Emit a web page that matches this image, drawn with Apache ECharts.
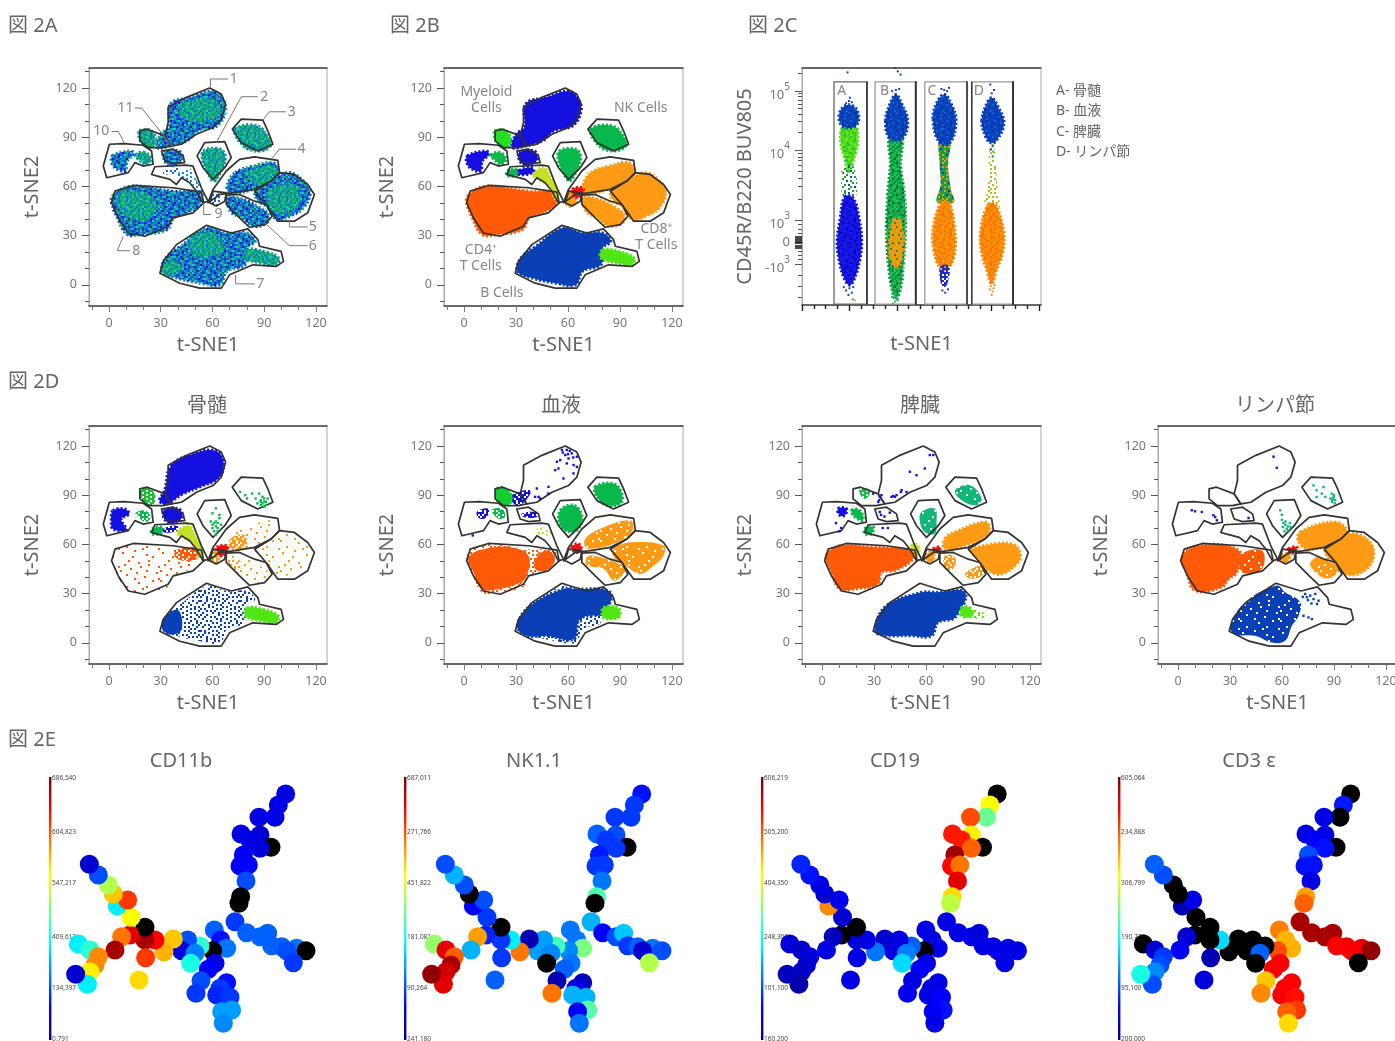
<!DOCTYPE html>
<html><head><meta charset="utf-8"><style>html,body{margin:0;padding:0;background:#fff;overflow:hidden}#c{width:1395px;height:1041px}</style>
<script src="https://cdn.jsdelivr.net/npm/echarts@6/dist/echarts.min.js"></script></head><body><div id="c"></div>
<script>
// ---------- gates (t-SNE coordinates) ----------
const gate1=[[34.3,108.2],[44.9,114.3],[58.4,120],[65.1,116.3],[67.6,110.2],[65.1,101],[60.3,95.9],[50.7,91.8],[42,85.7],[36.2,84.7],[32.4,90.8],[34.3,99]];
const gate11=[[17.9,93.9],[22.2,94.9],[32.4,90.8],[36.2,84.7],[31.4,83.7],[22.7,83.7],[17.9,87.8]];
const gateLow=[[30.4,81.6],[37.2,82.7],[43,78.6],[43.9,74.5],[37.2,73.9],[32.4,75.5]];
const gate10=[[0.2,85.7],[8.7,86.1],[19.8,85.1],[24.7,81.6],[25.6,73.5],[19.8,72.4],[15,74.5],[11.2,68.4],[-1.3,65.3],[-3.3,72.4]];
const gateT=[[26.6,72],[44.9,73],[48.7,72.4],[53.6,59],[57.4,51],[54.5,50],[50.7,57.1],[46.8,62.2],[42,65.3],[39.1,61.2],[35.3,64.3],[27.6,66.4],[24.7,67.3]];
const gate2=[[55.5,86.7],[67.1,87.3],[70.9,77.6],[67.1,71.4],[60.3,64.3],[54.5,71.4],[51.1,78.6]];
const gate3=[[76.7,101],[89.2,100.4],[92.1,93.9],[95,85.7],[86.3,81.6],[76.7,86.7],[71.5,94.9]];
const gate4=[[75.7,76.5],[84.4,78],[97.9,75.9],[98.9,68.4],[94,63.3],[84.4,58.2],[71.9,56.1],[64.2,55.1],[57.4,50],[60.3,58.2],[68,69.4]];
const gate5=[[98.8,68.4],[107.5,67.3],[115.2,61.2],[119.1,55.1],[115.2,43.9],[107.5,38.8],[97.9,38.8],[91.1,49],[84.4,57.1],[94,63.3]];
const gate6=[[68,54.7],[75.7,55.1],[84.4,51],[91.1,49],[94.6,41.8],[90.2,36.7],[81.5,35.1],[75.7,40.8],[68,49]];
const gate9=[[60.3,57.1],[68,56.1],[67.1,51],[62.2,48],[58.4,50]];
const gate8=[[3.5,57.1],[14,60.6],[37.2,59.2],[53.6,56.5],[54.9,50],[48.7,43.9],[37.2,40.8],[34.3,35.7],[20.8,29.6],[11.2,31.6],[5.4,40.8],[1.5,50]];
const gate7=[[31.4,14.3],[39.1,24.5],[56.5,36.3],[64.2,33.7],[70.9,31.6],[80.5,34.1],[86.3,27.6],[87.3,23.5],[99.8,20.4],[101.2,14.3],[96.9,11.2],[83.4,12.2],[76.7,9.2],[69.9,6.1],[65.1,-2],[52.6,-2],[41,1],[29.5,7.1]];
const allGates=[gate1,gate11,gateLow,gate10,gateT,gate2,gate3,gate4,gate5,gate6,gate9,gate8,gate7];
// ---------- populations (pooled) ----------
const popMyeloid=[[35.6,110.2],[47.2,114.3],[60.7,118],[66.5,112.2],[67.4,105.1],[62.6,96.9],[52,93.9],[45.2,87.8],[35.6,84.7],[27.9,83.7],[29.9,91.8],[34.7,95.9]];
const popLow=[[31.8,80.6],[40.5,81.6],[42.4,76.5],[37.6,73.1],[32.8,74.5]];
const popLeft=[[1.9,78.6],[12.5,81.6],[14.5,79.6],[10.6,75.5],[9.6,69.4],[4.8,70.4],[1.9,73.5]];
const popG11=[[17.9,93.9],[24.1,93.9],[27,88.8],[25,83.7],[21.2,84.7],[17.9,88.8]];
const popLeftG=[[15.4,79.2],[21.2,80.6],[24.1,76.5],[21.2,73.5],[17.3,76.5]];
const popNK=[[73.2,94.9],[85.7,96.9],[92.5,89.8],[93.5,84.7],[86.7,81.6],[78,84.7]];
const popG2=[[54.9,81.6],[64.5,82.7],[67.4,77.6],[64.5,68.4],[60.7,63.3],[56.8,69.4],[54.5,75.5]];
const popCD8a=[[73.2,68.4],[83.8,72.4],[95.4,74.5],[98.3,68.4],[93.5,63.3],[83.8,58.2],[70.3,56.1],[68.4,60.2]];
const popCD8b=[[84.8,56.1],[95.4,64.3],[105,68.4],[112.7,63.3],[116.6,56.1],[112.7,46.9],[105,41.8],[97.3,39.8],[92.5,46.9],[86.7,51]];
const popCD8c=[[69.4,53.1],[78,52],[87.7,46.9],[92.5,42.9],[91.5,37.8],[83.8,35.7],[77.1,40.8],[70.3,44.9]];
const popSmall=[[58.8,53.1],[62.6,57.1],[64.5,51],[61.7,47.9],[59.2,49]];
const popRed=[[62.6,58.2],[68.4,59.2],[68.4,55.1],[64.5,53.1]];
const popCD4=[[2.9,55.1],[12.5,60.2],[37.6,57.1],[52,56.1],[53,49],[45.2,43.9],[37.6,40.8],[33.7,33.7],[18.3,30.6],[10.6,30.6],[4.8,40.8],[1.3,51]];
const popYellow=[[39.5,67.3],[46.2,71.4],[50,65.3],[54.9,55.1],[53,52],[49,60.2],[43.2,64.3]];
const popTGreen=[[25,69.4],[30.8,70.4],[30.8,67.3],[25,66.3]];
const popTBlue=[[31.8,69.8],[39.5,71.4],[39.5,68.4],[31.8,67.3]];
const popB=[[32.8,16.3],[41.4,23.5],[56.8,34.7],[68.4,31.6],[80,31.6],[84.8,26.5],[80,22.4],[79,12.2],[68.4,8.2],[64.5,0],[53,1],[39.5,4.1],[30.8,8.2]];
const popBGreen=[[80,21.4],[89.6,20.4],[98.3,16.3],[96.4,12.2],[88.7,13.3],[79,16.3]];
const hotMyeloid=[[42,110],[60,113],[64,105],[55,100],[43,103]];
const hotCD4=[[5,55],[20,56],[27,48],[20,40],[8,44]];
const hotB1=[[48,30],[62,30],[65,22],[55,17],[47,22]];
const hotB2=[[31,12],[38,14],[41,9],[34,6]];
const hotCD8b=[[94,58],[108,60],[110,50],[100,44],[93,48]];
const hotCD8a=[[80,68],[95,72],[96,65],[85,62]];
// ---------- bone marrow ----------
const marrowMyeloid=[[36,108],[48.6,115.1],[61.1,117.3],[66.3,111.2],[64,101],[52.4,94.9],[42.8,90.8],[33.1,84.7],[29.3,86.7],[32.2,92.9]];
const marrowLeft=[[2.3,80.6],[9.1,81.6],[11.6,78.6],[7.1,75.5],[10,68.8],[2.3,69.4],[1.3,74.5]];
const clusterCD4=[[40,57],[50,58],[52,52],[44,50],[38,53]];
const clusterCD8=[[70,63],[78,66],[80,60],[74,56],[70,58]];
const clusterCD8c=[[70,50],[76,50],[76,45],[71,45]];
const clusterBm=[[32,15],[40,20],[42,8],[35,5],[31,8]];
const marrowNkDots=[[76,92],[79,90],[83,91],[85,88],[88,87],[90,86],[91,84],[88,84],[92,88],[89,89],[80,88],[87,91],[90,83],[86,85],[88,86],[90,88],[89,85],[91,86]];
const marrowG2Dots=[[62,82],[60,79],[64,78],[62,74],[60,72],[63,70],[61,68],[65,72],[59,74],[62,66],[64,76],[60,70],[63,68],[62,71],[61,73],[63,73]];
// ---------- blood ----------
const bloodCD4a=[[2.5,52],[11.2,57.1],[27.6,58.2],[37.2,53.1],[36.2,40.8],[32.4,36.7],[19.8,32.9],[10.2,32.9],[5.4,43]];
const bloodCD4b=[[42,52.2],[47.8,56.3],[52.6,51.2],[47.8,44.1],[41,45.1]];
const bloodB=[[30.8,10.4],[38.2,22.7],[57.4,32.9],[63.2,32.9],[84.4,30.8],[80.5,18.6],[67,14.5],[63.2,2.2],[47.8,4.3],[36.2,4.3]];
const bloodBG=[[80.5,21.6],[89.2,21],[89.2,15.5],[80.5,15.5]];
const bloodCD8a=[[70,63.5],[78.6,69.6],[96,74.7],[96.9,67.6],[86.3,60.4],[72.8,57.3],[70,58.4]];
const bloodCD8b=[[86.3,57.3],[96,61.4],[115.2,59.4],[115.2,53.3],[109.5,47.1],[101.7,42],[93.1,47.1],[86.3,52.2]];
const bloodCD8c=[[70.9,52.2],[74.8,53.3],[93.1,46.1],[91.1,41],[86.3,38],[80.5,45.1],[70.9,47.1]];
const bloodNK=[[75.7,95.1],[86.3,97.1],[91.1,91],[90.2,84.9],[82.5,83.9],[76.8,88.9]];
const bloodG2=[[55.5,80.8],[63.2,83.9],[68,77.8],[66.1,69.6],[61.3,67.6],[55.5,71.6]];
const bloodG11=[[18.9,94.1],[23.7,94.1],[27.6,89],[25.6,83.9],[20.8,84.9],[18.5,89]];
const bloodLeft=[[7.3,79.8],[14,81.8],[13.1,76.7],[9.2,75.7]];
const bloodLeftG=[[16,80.8],[21.8,81.8],[23.7,76.7],[19.8,75.7]];
const bloodMyLow=[[27.6,90],[38.2,93.1],[37.2,89],[32.4,83.9],[28.6,84.9]];
const bloodLow=[[33.3,78.8],[42,79.8],[42,76.7],[34.3,76.7]];
const bloodYellow=[[43,70.6],[51.6,67.6],[50,65.5],[42,66.5]];
const bloodRed=[[62.2,58.4],[66.1,60.4],[68,56.3],[64.2,55.3]];
const bloodMyeloidDots=[[56.5,117.6],[59.3,117.6],[62.2,115.5],[65.1,113.5],[58.4,114.5],[60.3,112.4],[55.5,111.4],[63.2,108.4],[65.1,107.3],[59.3,109.4],[52.6,105.3],[54.5,106.3],[63.2,103.3],[57.4,100.2],[53.6,110.4],[42,94.1],[43,89],[48.7,95.1],[48.7,91],[43.9,88],[41,89],[57,116],[61,117],[60,115],[63,113],[5,65.5]];
// ---------- spleen ----------
const spleenCD4=[[2.5,53.3],[11.2,59.4],[28.5,58.4],[51.6,56.3],[52.6,51.2],[42,44.1],[34.3,43],[32.4,35.9],[18.9,32.9],[10.2,32.9],[5.4,43]];
const spleenB=[[30.8,10.4],[37.2,22.7],[57.4,30.8],[65.1,30.8],[82.5,30.8],[76.8,15.5],[67,12.4],[63.2,4.3],[51.6,4.3],[32.4,5.3]];
const spleenBG=[[80.5,21.6],[88.2,20.6],[95,16.5],[86.3,14.5],[80.5,16.5]];
const spleenBGhot=[[80.5,21.6],[86,21],[86,16.5],[80.5,16.5]];
const spleenCD8a=[[70.9,63.5],[76.8,67.6],[94.1,73.7],[96.9,69.6],[94.1,64.5],[82.5,59.4],[70.9,57.3]];
const spleenCD8b=[[86.3,56.3],[94.1,59.4],[109.5,60.4],[114.3,55.3],[113.3,49.2],[103.7,42],[96,44.1],[90.2,51.2]];
const spleenCD8c1=[[70.9,53.3],[76.8,52.2],[75.7,45.1],[70.9,45.1]];
const spleenCD8c2=[[82.5,42],[92.1,47.1],[93.1,42],[86.3,39]];
const spleenNK=[[76.8,93],[85.4,96.1],[92.1,88],[89.2,83.9],[80.5,86.9]];
const spleenG2=[[57.4,79.8],[65.1,81.8],[66.1,73.7],[65.1,66.5],[59.3,67.6],[56.5,73.7]];
const spleenG11=[[21.8,94.1],[27.6,93.1],[25.6,88],[22.7,89]];
const spleenLeft=[[9.2,81.8],[14,81.8],[13.1,77.8],[10.2,77.8]];
const spleenLeftG=[[17,80.8],[21.8,80.8],[23.7,74.7],[18.9,76.7]];
const spleenTG=[[24.7,69.6],[29.5,70.6],[28.5,66.5],[24.7,66.5]];
const spleenYellow=[[51.6,59.4],[55.5,59.4],[55.5,53.3],[53,53]];
const spleenSmall=[[60.3,53.3],[64.2,56.3],[64.2,50.2],[61.3,49.2]];
const spleenRed=[[64.2,57.3],[68,58.4],[67,55.3]];
const spleenMyeloidDots=[[33.3,89],[34.3,90],[32.4,85.9],[40.1,89],[42,89],[43,90],[45.9,93.1],[48.7,92],[50.7,104.3],[54.5,102.2],[59.3,106.3],[62.2,114.5],[64.2,114.5],[29.5,91],[33.3,79.8],[39.1,79.4],[34,78],[36,77],[41,89.5],[33,87],[45.5,92],[8,73],[10,68],[11,70],[35,70],[38,70]];
// ---------- lymph node ----------
const nodeCD4a=[[2.1,52],[11.8,59.4],[34.9,56.3],[33.9,43],[29.1,38.9],[25.2,33.9],[9.8,31.9],[5,43]];
const nodeCD4b=[[35.8,53.3],[48.4,56.3],[48.4,45.1],[36.8,43]];
const nodeCD8a=[[70.5,67.6],[90.7,73.7],[97.5,67.6],[88.8,60.4],[75.3,57.3],[69.6,61.4]];
const nodeCD8b=[[85,57.3],[98.5,66.5],[110,62.4],[112.9,52.2],[106.2,43],[96.5,42],[88.8,49.2]];
const nodeCD8c=[[77.3,50.2],[81.1,52.2],[92.7,45.1],[88.8,40],[83,40],[76.3,47.1]];
const nodeSmall=[[59.9,53.3],[64.7,54.3],[62.8,49.2],[59.9,50.2]];
const nodeRed=[[63.8,57.3],[68.6,58.4],[67.6,55.3],[63.8,54.9]];
const nodeB=[[30.1,10.4],[38.8,24.7],[57,34.9],[61.8,30.8],[70.5,24.7],[69.6,16.5],[65.7,10.4],[61.8,1.2],[54.1,0.2],[44.5,4.3],[32.9,5.3]];
const nodeBDots=[[73.4,29.8],[76.3,28.8],[78.2,26.7],[81.1,25.7],[75.3,15.5],[77.3,14.5],[72.4,16.5],[74.4,27.8],[79.2,29.8],[80.2,23.7],[75,26],[77,24],[72,28]];
const nodeNkDots=[[88.8,91],[89.8,89],[90.7,87],[89,86],[90.5,85],[88,88],[80,93],[84,95],[83,91],[85,89],[80,88.9],[78.2,96],[89.5,88],[90,90],[89,87]];
const nodeG2Dots=[[59,80.8],[59.9,78],[60,75],[60.8,73],[62,72],[63.5,71],[64.5,73],[62.7,69.6],[61.5,68],[65,70.6],[60.5,70.6],[62,74],[63.5,68.5]];
const nodeBlueDots=[[7.9,80.8],[9.8,80.2],[13.7,79.8],[20.4,77.8],[22.4,74.7],[21.4,76.7],[55.1,113.5],[57,106.7],[40.7,76.1]];
// ---------- strip plot (2C): x position, biexponential y position ----------
const stripBoxA=[[0.675,7.27],[1.37,7.27],[1.37,-2.82],[0.675,-2.82]];
const stripBoxB=[[1.54,7.27],[2.4,7.27],[2.4,-2.82],[1.54,-2.82]];
const stripBoxC=[[2.59,7.27],[3.48,7.27],[3.48,-2.82],[2.59,-2.82]];
const stripBoxD=[[3.58,7.27],[4.45,7.27],[4.45,-2.82],[3.58,-2.82]];
const aTop=[[0.78,5.7],[0.88,6.15],[1.08,6.18],[1.2,5.7],[1.12,5.25],[0.86,5.25]];
const aGreen=[[0.86,5.25],[1.13,5.25],[1.17,4.5],[1.07,3.6],[0.98,3.2],[0.9,3.8],[0.82,4.5]];
const aMid=[[0.9,3.5],[1.08,3.5],[1.14,2.1],[0.86,2.1]];
const aBlue=[[0.9,2.05],[1.08,2.0],[1.21,1.0],[1.26,0],[1.22,-0.8],[1.1,-1.7],[1.0,-1.95],[0.88,-1.6],[0.78,-0.8],[0.74,0],[0.8,1]];
const bTop=[[1.76,5.5],[1.86,6.3],[1.98,6.7],[2.1,6.3],[2.23,5.5],[2.12,4.7],[1.85,4.7]];
const bBody=[[1.85,4.8],[2.1,4.8],[2.08,3.5],[2.17,2],[2.18,0.3],[2.14,-1],[2.08,-2.1],[1.98,-2.6],[1.89,-2.1],[1.82,-1],[1.78,0.3],[1.8,2],[1.86,3.5]];
const bOrange=[[1.93,1.0],[2.08,1.0],[2.14,-0.2],[2.06,-1.1],[1.93,-1.1],[1.83,-0.2]];
const cTop=[[2.76,5.6],[2.86,6.4],[3.0,6.7],[3.14,6.3],[3.25,5.5],[3.12,4.5],[2.9,4.5]];
const cMid=[[2.9,4.6],[3.12,4.6],[3.08,3.5],[3.14,2.4],[3.2,1.8],[2.85,1.8],[2.92,2.6],[2.9,3.6]];
const cOrange=[[2.94,1.8],[3.1,1.8],[3.22,0.6],[3.22,-0.5],[3.08,-1.2],[2.92,-1.2],[2.78,-0.4],[2.77,0.7]];
const cLow=[[2.92,-1.1],[3.1,-1.1],[3.08,-1.8],[3.0,-2.05],[2.92,-1.8]];
const dTop=[[3.79,5.5],[3.9,6.3],[4.0,6.55],[4.12,6.2],[4.26,5.4],[4.1,4.6],[3.98,4.5],[3.88,4.75]];
const dMid=[[3.98,4.6],[4.04,4.6],[4.1,3.2],[4.14,2],[4.2,1.6],[3.85,1.6],[3.92,2.4],[3.93,3.4]];
const dOrange=[[3.93,1.7],[4.08,1.7],[4.25,0.5],[4.24,-0.4],[4.1,-1.3],[4.0,-1.9],[3.9,-1.3],[3.78,-0.4],[3.77,0.6]];
const stripBlueDots=[[0.99,6.4],[0.93,6.3],[1.05,6.35],[1.01,6.55],[0.96,7.7],[1.0,-2.1],[0.93,-2.2],[1.05,-2.3],[0.98,-2.4],[0.88,-2.05],[1.08,-2.05],[1.96,7.9],[2.02,7.75],[2.08,7.6],[1.98,6.9],[2.05,6.95],[1.9,6.85],[3.0,6.9],[3.06,6.85],[2.94,6.95],[3.1,7.0],[2.96,-2.2],[3.02,-2.3],[3.08,-2.15],[4.0,6.75],[4.05,6.9],[3.97,7.15],[4.02,4.35],[3.98,4.2]];
const stripGreenDots=[[1.96,-2.7],[1.92,-2.8],[1.98,-2.9],[2.02,-2.65],[1.9,-2.5],[1.07,-2.6],[4.03,4.1],[4.02,3.9]];
const stripOrangeDots=[[3.98,-2.0],[4.04,-2.1],[4.02,-2.25],[3.96,-2.15],[4.06,-1.95],[4.0,-2.4],[0.84,3.2],[1.11,-2.65]];
// ---------- tree plots (2E): node layout and expression per node, -1 = no signal ----------
const treeNodes=[[767,162],[745,195],[735,232],[687,232],[690,285],[633,282],[660,300],[723,322],[690,325],[640,345],[630,378],[655,375],[648,423],[632,470],[627,490],[615,545],[650,578],[690,590],[713,580],[725,617],[755,620],[800,625],[770,632],[828,632],[790,668],[553,570],[572,600],[590,625],[548,632],[510,618],[473,600],[455,632],[495,640],[482,670],[555,670],[535,688],[513,722],[498,760],[590,728],[570,745],[560,765],[600,772],[605,810],[575,815],[580,850],[430,597],[402,635],[375,600],[345,600],[345,562],[347,653],[327,720],[300,585],[275,590],[255,630],[303,532],[262,498],[293,480],[250,462],[235,435],[205,405],[178,373],[145,612],[180,630],[205,650],[195,675],[180,695],[172,733],[137,703]];
const cd11bValues=[10,10,10,10,8,10,10,-1,9,12,12,12,20,-1,-1,18,22,22,22,22,22,24,20,-1,18,22,14,24,-1,42,20,10,25,40,10,12,20,18,14,18,16,18,28,28,26,68,70,88,96,-1,82,66,90,76,96,62,36,82,68,55,20,8,36,42,74,74,64,36,8];
const nk11Values=[14,18,18,18,20,22,18,-1,18,15,18,18,24,45,-1,30,12,20,32,18,22,24,8,20,55,24,24,50,26,44,28,28,26,-1,24,22,5,76,6,10,30,30,46,12,24,5,76,36,18,-1,18,22,16,72,30,18,12,20,-1,20,30,20,52,90,78,96,92,90,98];
const cd19Values=[-1,62,48,80,64,85,85,-1,78,97,87,76,90,66,56,10,10,10,9,10,10,9,10,10,10,10,10,10,-1,22,10,10,25,34,10,12,10,11,10,10,10,12,14,12,10,8,24,10,9,-1,10,10,-1,6,10,8,74,11,8,10,14,16,9,7,9,8,7,4,6];
const cd3eValues=[-1,15,-1,10,10,10,12,-1,14,20,14,14,10,72,78,96,96,96,96,88,88,90,88,98,-1,75,70,70,80,-1,-1,-1,22,-1,88,88,68,74,88,88,88,86,82,78,66,-1,-1,34,-1,-1,5,9,-1,8,12,-1,5,10,-1,-1,20,22,-1,8,18,20,26,20,40];
const treeScaleCd11b=['686,540','604,823','547,217','409,612','134,397','0,791'];
const treeScaleNk=['687,011','271,766','451,822','181,081','90,264','241,180'];
const treeScaleCd19=['606,219','505,200','404,350','248,300','101,100','160,200'];
const treeScaleCd3=['605,064','234,888','306,799','190,777','95,100','200,000'];
// ---------- ticks ----------
const tsneMajor=[0,30,60,90,120];
const tsneMinorX=[-10,10,20,40,50,70,80,100,110];
const tsneMinorY=[-10,10,20,40,50,70,80,100,110,130];
const stripXMajor=[0,1,2,3,4,5];
const stripXMinor=[0.25,0.5,0.75,1.25,1.5,1.75,2.25,2.5,2.75,3.25,3.5,3.75,4.25,4.5,4.75];
const stripYMajor=[-1,0,1,4.18,6.86];
const stripYLabels={'-1':'{b|-10}{s|3}','0':'{z|0}','1':'{b|10}{s|3}','4.18':'{b|10}{s|4}','6.86':'{b|10}{s|5}'};
const stripYMinor=[7.67,6.74,6.6,6.44,6.27,6.05,5.79,5.46,4.99,4.03,3.87,3.69,3.47,3.22,2.91,2.52,1.96,0.8,0.6,0.4,-0.4,-0.6,-0.8,-1.5,-2,-2.5];
const stripYZero=[-0.25,-0.15,-0.05,0.05,0.15,0.25];
// ---------- texture tiles ----------
const maskMix=["abacabddabcabaab","caabdbaabaacbdaa","abdcaabcaadbacab","aacabadabcabaadb","dbaacabaadabcaab","acabdaacbaabadca","baadabcaaabdcaab","abcabaadbcaabaad","daabacabdaacabba","acbaabdacabaadcb","abadcaabaadbcaba","baacabdbacaabdaa","adbaacaabdabacab","caabdbacaabcaadb","abacaabdbaacdaba","bdaabcaacabaabac"];
const maskS30=["a..a...b.a..a...a..b","..b...a....a..b...a.",".a..a...a.b....a....","....b.a....a.a...b.a","a.a.....a.b....a.a..","...a.b.a.....a.....b",".b....a..a.b...a.a..","a..a.....b...a....a.","..a..b.a...a...b...a",".a......a.a..a...a..","...b.a....b....a..b.","a.....a.a...a.b...a.","..a.b.....a.....a..a",".a...a.b.a..a.a...b.","....a.....b....a.a..","b.a...a.a...a.b....a","..a.b....a.....a.a..",".a....a.b..a.b.....a","a..a.....a....a.b.a.","...b.a.a...a.a......"];
const maskS10=["....a.........a.....",".........a..........","..a...........b.....","..........a........a",".....a..............","a............a......","........b.........a.","...a................","............a.......",".......a...........b","b...............a...",".........a..........","....................","...a.........b......","...........a.......a",".......a............",".a..................",".............a......","......a.........b...","...................."];
const invert=m=>m.map(r=>r.replace(/./g,c=>c==='.'?'a':'.'));
const maskS70=invert(maskS30),maskS90=invert(maskS10);
const PAL2A={a:'#1a5fe0',b:'#12b070',c:'#1420c0',d:'#20c4c8'};
const PAL2AG={a:'#10b868',b:'#1a70e0',c:'#10a070',d:'#20c8b0'};
const PALDB={a:'#0a45c0',b:'#0a40b8',c:'#10309c',d:'#1060d8'};
const PALB={a:'#1414e0',b:'#1010f0',c:'#0808b0',d:'#2020e8'};
const PALGM={a:'#10a040',b:'#20b848',c:'#0a6a48',d:'#10c878'};
const PALOR={a:'#ff8c04',b:'#ff7200',c:'#ff9a10',d:'#e08a10'};
const PALMIX={a:'#16a040',b:'#ff9010'};
const PALYG={a:'#a8c820',b:'#ff9810'};
function tile(mask,pal,sparse){const cell=2,c=document.createElement('canvas');c.width=mask[0].length*cell;c.height=mask.length*cell;const x=c.getContext('2d');
 mask.forEach((r,j)=>{for(let i=0;i<r.length;i++){const col=pal[r[i]];if(col){x.fillStyle=col;x.fillRect(i*cell,j*cell,cell,cell);}}});return {image:c,repeat:'repeat',sparse:!!sparse};}
const solo=c=>({a:c,b:c,c:c,d:c});
const s10=c=>tile(maskS10,solo(c),1),s30=c=>tile(maskS30,solo(c),1),s70=c=>tile(maskS70,solo(c),1),s90=c=>tile(maskS90,solo(c),1);
// ---------- colours ----------
const BM='#1410e0',BB='#0a3fb5',ORR='#ff5a08',ORG='#ff9a14',GR='#08b84a',LG='#50e614',YG='#c4e028',RED='#f01010',TEAL='#10b878';
const FONT='"Noto Sans","Noto Sans CJK JP",sans-serif';
const TXT='#666',GATE='#333';
const mix=tile(maskMix,PAL2A),mixG=tile(maskMix,PAL2AG);
const layers2A=[...[popMyeloid,popLow,popLeft,popG11,popLeftG,popNK,popG2,popCD8a,popCD8b,popCD8c,popCD4,popB,popBGreen].map(p=>[p,mix]),[popTBlue,s30('#1a5fe0')],[popYellow,s30('#1a8fe0')],[popSmall,s30('#1a5fe0')],
 ...[hotMyeloid,hotCD4,hotB1,hotB2,hotCD8b,hotCD8a,popNK,popG2,popG11,popLeftG,popBGreen].map(p=>[p,mixG])];
const layers2B=[[popMyeloid,BM],[popLow,BM],[popLeft,BM],[popG11,'#20e020'],[popLeftG,GR],[popNK,GR],[popG2,GR],[popCD8a,ORG],[popCD8b,ORG],[popCD8c,ORG],[popSmall,ORG],[popRed,RED],[popCD4,ORR],[popYellow,YG],[popTGreen,GR],[popTBlue,BM],[popB,BB],[popBGreen,LG]];
const layersMarrow=[[marrowMyeloid,BM],[popLow,BM],[marrowLeft,BM],[popG11,s70('#18c030')],[popLeftG,s70(GR)],[popYellow,YG],[popTGreen,GR],[popTBlue,s70(BM)],[popCD4,s10(ORR)],[clusterCD4,s70(ORR)],[popCD8a,s10(ORG)],[popCD8b,s10(ORG)],[popCD8c,s10(ORG)],[clusterCD8,s70(ORG)],[clusterCD8c,s30(ORG)],[popSmall,s70(ORG)],[popRed,RED],[popB,s30(BB)],[clusterBm,s70(BB)],[popBGreen,LG]];
const layersBlood=[[bloodLeft,s70(BM)],[bloodLow,s70(BM)],[bloodMyLow,s70(BM)],[bloodG11,'#10d030'],[bloodLeftG,s70(GR)],[bloodNK,GR],[bloodG2,GR],[bloodYellow,s30(YG)],[popCD4,s30(ORR)],[bloodCD4a,s70(ORR)],[bloodCD4b,s70(ORR)],[bloodCD8a,s90(ORG)],[bloodCD8b,s90(ORG)],[bloodCD8c,s90(ORG)],[bloodRed,RED],[popB,s30(BB)],[bloodB,BB],[bloodBG,LG]];
const layersSpleen=[[spleenG11,s70('#10c040')],[spleenLeft,BM],[spleenLeftG,GR],[spleenNK,s90(TEAL)],[spleenG2,s90(TEAL)],[spleenTG,GR],[spleenYellow,YG],[spleenCD4,ORR],[spleenCD8a,ORG],[spleenCD8b,ORG],[spleenCD8c1,s70(ORG)],[spleenCD8c2,s70(ORG)],[spleenSmall,ORG],[spleenRed,RED],[spleenB,BB],[spleenBG,s30(LG)],[spleenBGhot,LG]];
const layersNode=[[nodeCD4a,ORR],[nodeCD4b,s90(ORR)],[nodeCD8a,ORG],[nodeCD8b,ORG],[nodeCD8c,s90(ORG)],[nodeSmall,ORG],[nodeRed,RED],[nodeB,s90(BB)]];
// ---------- builders ----------
const grid=[],xAxis=[],yAxis=[],series=[],graphicEls=[],visualMap=[];
const XR=[-11.6,126.4],YR=[-12.9,132.2];
function addAxes(l,t,w,h,o){const g=grid.length;
 grid.push({left:l,top:t,width:w,height:h,show:true,borderColor:'#aaa',borderWidth:1,backgroundColor:'#fff',outerBoundsMode:'none'});
 const xi=xAxis.length,yi=yAxis.length;
 const base={gridIndex:g,type:'value',splitLine:{show:false},minorTick:{show:false}};
 const dark={color:'#444',width:1.6};
 const tk={color:'#777',width:1};
 xAxis.push({...base,min:o.xr[0],max:o.xr[1],position:'bottom',name:o.xName,nameLocation:'middle',nameGap:29,nameTextStyle:{fontSize:20,color:TXT,fontFamily:FONT},
  axisLine:{onZero:false,lineStyle:dark},axisTick:{customValues:o.xMajor,length:6,lineStyle:o.xTk||tk},axisLabel:{show:o.xLabels,customValues:o.xMajor,margin:11,fontSize:12.5,color:'#777',fontFamily:FONT}});
 xAxis.push({...base,min:o.xr[0],max:o.xr[1],position:'bottom',axisLine:{show:false,onZero:false},axisTick:{customValues:o.xMinor,length:4,lineStyle:o.xTk||tk},axisLabel:{show:false}});
 xAxis.push({...base,min:o.xr[0],max:o.xr[1],position:'top',axisLine:{onZero:false,lineStyle:dark},axisTick:{show:false},axisLabel:{show:false}});
 yAxis.push({...base,min:o.yr[0],max:o.yr[1],position:'left',name:o.yName,nameLocation:'middle',nameGap:o.yGap,nameRotate:90,nameTextStyle:{fontSize:20,color:TXT,fontFamily:FONT},
  axisLine:{onZero:false,lineStyle:{color:'#aaa',width:1}},axisTick:{customValues:o.yMajor,length:7,lineStyle:{color:'#555',width:1}},
  axisLabel:{customValues:o.yMajor,margin:o.yMargin||12,fontSize:12.5,color:'#777',fontFamily:FONT,formatter:o.yFmt,rich:o.yRich}});
 yAxis.push({...base,min:o.yr[0],max:o.yr[1],position:'left',axisLine:{show:false,onZero:false},axisTick:{customValues:o.yMinor,length:4,lineStyle:{color:'#555',width:1}},axisLabel:{show:false}});
 return {xi,yi};}
function shapes(ax,list){series.push({type:'custom',coordinateSystem:'cartesian2d',xAxisIndex:ax.xi,yAxisIndex:ax.yi,silent:true,animation:false,clip:true,
 data:list.map((s,i)=>[s.pts[0][0],s.pts[0][1],i]),encode:{x:0,y:1},
 renderItem(p,api){const s=list[p.dataIndex];const f=s.fill;const fuzzy=f&&!f.sparse;
  return {type:'polygon',shape:{points:s.pts.map(q=>api.coord(q)),smooth:f?0.4:0},style:fuzzy?{fill:f,stroke:f,lineWidth:3,lineDash:[2,2]}:{fill:f||'none',stroke:s.stroke||null,lineWidth:s.lw||0,lineJoin:'round'}};}});}
function dots(ax,pts,color,size){series.push({type:'scatter',xAxisIndex:ax.xi,yAxisIndex:ax.yi,silent:true,animation:false,symbol:'rect',symbolSize:size||2.4,data:pts,itemStyle:{color,opacity:1}});}
function leaders(ax,pts){series.push({type:'line',xAxisIndex:ax.xi,yAxisIndex:ax.yi,silent:true,animation:false,showSymbol:false,data:pts,lineStyle:{color:'#777',width:1}});}
function labels(ax,rows,size){series.push({type:'scatter',xAxisIndex:ax.xi,yAxisIndex:ax.yi,silent:true,animation:false,symbolSize:1,itemStyle:{color:'rgba(0,0,0,0)'},data:rows,
 label:{show:true,position:'inside',formatter:p=>p.data[2],fontSize:size||14,lineHeight:16,color:TXT,fontFamily:FONT}});}
function tsnePanel(l,t,w,yGap,layers){const ax=addAxes(l,t,w,238,{xr:XR,yr:YR,xMajor:tsneMajor,xMinor:tsneMinorX,yMajor:tsneMajor,yMinor:tsneMinorY,xName:'t-SNE1',yName:'t-SNE2',yGap:yGap,xLabels:true});
 shapes(ax,layers.map(([pts,fill])=>({pts,fill})));return ax;}
function closeGates(ax){shapes(ax,allGates.map(pts=>({pts,stroke:GATE,lw:1.7})));}
function text(x,y,t,size,align,extra){graphicEls.push({type:'text',x,y:y+1,silent:true,style:{text:t,fontSize:size,fontFamily:FONT,fill:TXT,align:align||'left',verticalAlign:'middle',...extra}});}
// 2A
const a2=tsnePanel(89,68,238,47,layers2A);closeGates(a2);
[[[58.8,120],[58.8,125.5],[69,125.5]],[[62.2,86.7],[76.7,114.7],[86.3,114.7]],[[89.2,100.4],[93,105.5],[102.7,105.5]],[[94,76.5],[98.8,82.7],[108.5,82.7]],[[104.6,39.8],[104.6,35.3],[115.2,35.3]],[[90.2,37.8],[104.6,23.9],[115.2,23.9]],[[73.4,6.1],[73.4,0.6],[84.4,0.6]],[[8.3,29.6],[4.8,20.8],[12.1,20.8]],[[54.9,50],[54.9,42.9],[59.3,42.9]],[[8.7,86.7],[5.4,93.5],[1.5,93.5]],[[37.2,83.7],[18.9,107.8],[15,107.8]]].forEach(p=>leaders(a2,p));
labels(a2,[[72.4,125.5,'1'],[90,114.7,'2'],[106,105.5,'3'],[111.6,82.7,'4'],[118.2,35.3,'5'],[118.2,23.9,'6'],[87.7,0.6,'7'],[15.8,20.8,'8'],[63.5,42.9,'9'],[-4.5,93.5,'10'],[9.5,107.8,'11']]);
// 2B
const b2=tsnePanel(444,68,239,47,layers2B);closeGates(b2);
labels(b2,[[12.9,112.6,'Myeloid\nCells'],[102,108,'NK Cells'],[111,29,'CD8⁺\nT Cells'],[9.6,16.3,'CD4⁺\nT Cells'],[21.8,-5,'B Cells']]);
// 2C
const c2=addAxes(802,68,239,237,{xr:[0,5.04],yr:[-2.86,7.9],xMajor:stripXMajor,xMinor:stripXMinor,yMajor:stripYMajor,yMinor:stripYMinor,xName:'t-SNE1',yName:'CD45R/B220 BUV805',yGap:47,yMargin:12,xLabels:false,xTk:{color:'#222',width:1.4},
 yFmt:v=>stripYLabels[String(v)]||'',yRich:{b:{fontSize:13,color:'#777',fontFamily:FONT,padding:[9,0,0,0]},z:{fontSize:13,color:'#777',fontFamily:FONT},s:{fontSize:10,color:'#777',fontFamily:FONT,padding:[0,0,7,0]}}});
yAxis.push({gridIndex:grid.length-1,type:'value',min:-2.86,max:7.9,position:'left',splitLine:{show:false},axisLine:{show:false,onZero:false},axisTick:{customValues:stripYZero,length:7,lineStyle:{color:'#111',width:1.5}},axisLabel:{show:false}});
const mDB=tile(maskMix,PALDB),mB=tile(maskMix,PALB),mGM=tile(maskMix,PALGM),mOR=tile(maskMix,PALOR),mLG=tile(maskMix,{a:'#50e020',b:'#40d010',c:'#80e020',d:'#20c040'});
shapes(c2,[{pts:stripBoxA,stroke:'#666',lw:1.3},{pts:stripBoxB,stroke:'#999',lw:1.3},{pts:stripBoxC,stroke:'#999',lw:1.3},{pts:stripBoxD,stroke:'#999',lw:1.3},
 {pts:[stripBoxA[1],stripBoxA[2]],stroke:'#333',lw:1.6},{pts:[stripBoxB[1],stripBoxB[2]],stroke:'#333',lw:2},{pts:[stripBoxC[1],stripBoxC[2]],stroke:'#333',lw:1.6},{pts:[stripBoxD[1],stripBoxD[2]],stroke:'#333',lw:2},{pts:[stripBoxD[0],stripBoxD[3]],stroke:'#333',lw:1.4},
 {pts:aGreen,fill:mLG},{pts:aTop,fill:mDB},{pts:aMid,fill:tile(maskS30,{a:'#16a040',b:'#1a40c0'},1)},{pts:aBlue,fill:mB},
 {pts:bBody,fill:mGM},{pts:bOrange,fill:tile(maskMix,{a:'#e8a010',b:'#ff8c10',c:'#209040',d:'#d0a020'})},{pts:bTop,fill:mDB},
 {pts:cMid,fill:tile(maskS70,{a:'#16a040'},1)},{pts:cMid,fill:tile(maskS30,{a:'#ff9010',b:'#1a40c0'},1)},{pts:cOrange,fill:mOR},{pts:cLow,fill:tile(maskS70,{a:'#1a30c8'},1)},{pts:cTop,fill:mDB},
 {pts:dMid,fill:tile(maskS30,PALYG,1)},{pts:dOrange,fill:mOR},{pts:dTop,fill:mDB}]);
dots(c2,stripBlueDots,'#1a3cc0',2);dots(c2,stripGreenDots,'#30b060',2);dots(c2,stripOrangeDots,'#f09020',2);
labels(c2,[[0.84,6.86,'A'],[1.74,6.86,'B'],[2.74,6.86,'C'],[3.73,6.86,'D']],14);
// 2D
const d1=tsnePanel(89,426,238,47,layersMarrow);dots(d1,marrowNkDots,GR);dots(d1,marrowG2Dots,GR);closeGates(d1);
const d2=tsnePanel(444,426,239,47,layersBlood);dots(d2,bloodMyeloidDots,BM);closeGates(d2);
const d3=tsnePanel(802,426,239,47,layersSpleen);dots(d3,spleenMyeloidDots,BM);closeGates(d3);
const d4=tsnePanel(1158,426,239,47,layersNode);dots(d4,nodeBDots,BB);dots(d4,nodeBlueDots,BM);dots(d4,nodeNkDots,TEAL);dots(d4,nodeG2Dots,TEAL);closeGates(d4);
// 2E
const JET=['#00007f','#0000ff','#007fff','#00ffff','#7fff7f','#ffff00','#ff7f00','#ff0000','#7f0000'];
function tree(left,barX,values,scale){const g=grid.length;
 grid.push({left,top:740,width:300,height:301,show:false,outerBoundsMode:'none'});
 const xi=xAxis.length,yi=yAxis.length;
 xAxis.push({gridIndex:g,type:'value',min:0,max:900,show:false});
 yAxis.push({gridIndex:g,type:'value',min:0,max:903,inverse:true,show:false});
 const si=series.length;
 series.push({type:'scatter',xAxisIndex:xi,yAxisIndex:yi,silent:true,animation:false,symbolSize:19,data:treeNodes.map((n,i)=>[n[0],n[1],values[i]]),itemStyle:{opacity:1}});
 visualMap.push({type:'continuous',show:false,seriesIndex:si,dimension:2,min:-0.01,max:100,range:[0,100],inRange:{color:JET},outOfRange:{color:'#000'}});
 graphicEls.push({type:'rect',silent:true,shape:{x:barX,y:777,width:2.4,height:263},style:{fill:new echarts.graphic.LinearGradient(0,0,0,1,JET.slice().reverse().map((c,i)=>({offset:i/8,color:c})))}});
 [778,832,883,937,988,1039].forEach((y,i)=>text(barX+3,y-1,scale[i],6.5,'left',{fill:'#444'}));}
tree(30,49,cd11bValues,treeScaleCd11b);tree(386,404,nk11Values,treeScaleNk);tree(741.5,761,cd19Values,treeScaleCd19);tree(1095,1118,cd3eValues,treeScaleCd3);
// text
text(8,25,'図 2A',20);text(390,25,'図 2B',20);text(748,25,'図 2C',20);text(8,381,'図 2D',20);text(8,739,'図 2E',20);
text(207,405,'骨髄',20,'center');text(561,405,'血液',20,'center');text(920,405,'脾臓',20,'center');text(1275,405,'リンパ節',20,'center');
text(181,760,'CD11b',20,'center');text(534,760,'NK1.1',20,'center');text(895,760,'CD19',20,'center');text(1249,760,'CD3 ε',20,'center');
[['A- 骨髄',90],['B- 血液',110],['C- 脾臓',131],['D- リンパ節',151]].forEach(r=>text(1056,r[1],r[0],14));
const chart=echarts.init(document.getElementById('c'),null,{renderer:'canvas'});
chart.setOption({animation:false,backgroundColor:'#fff',textStyle:{fontFamily:FONT},grid,xAxis,yAxis,series,visualMap,graphic:{elements:graphicEls}});
</script></body></html>
